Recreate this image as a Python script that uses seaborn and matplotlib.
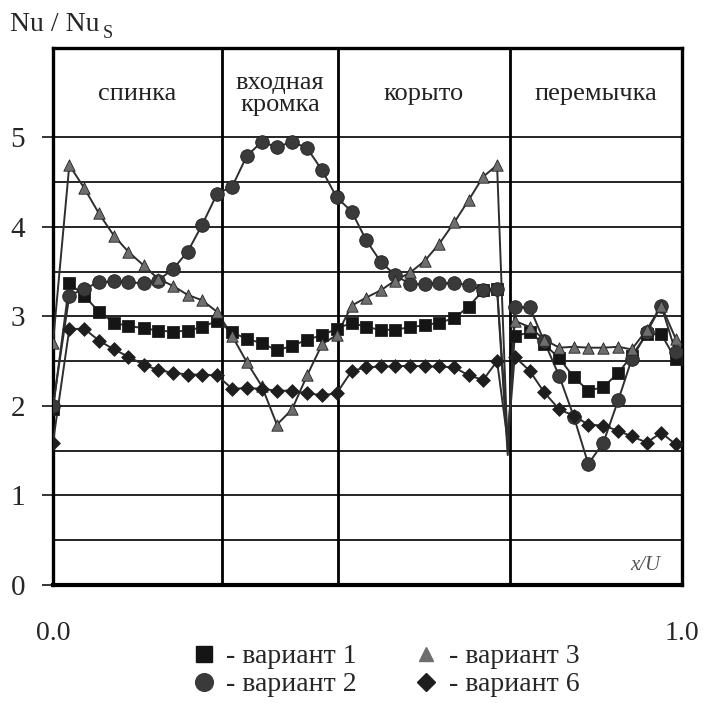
import numpy as np
import pandas as pd
import matplotlib.pyplot as plt
import seaborn as sns
from matplotlib.lines import Line2D

# x / U positions of the measurement points (index 31 is the spike at the
# trough/bridge boundary, drawn by the line only)
x = [0.000, 0.026, 0.050, 0.073, 0.097, 0.120, 0.144, 0.167, 0.191, 0.214, 0.237, 0.261,
     0.285, 0.308, 0.332, 0.356, 0.380, 0.404, 0.428, 0.451,
     0.475, 0.498, 0.521, 0.544, 0.568, 0.591, 0.614, 0.638, 0.661, 0.684, 0.706,
     0.723,
     0.734, 0.758, 0.781, 0.805, 0.828, 0.851, 0.875, 0.899, 0.920, 0.944, 0.967, 0.990]

v1 = [1.96, 3.37, 3.23, 3.05, 2.93, 2.89, 2.87, 2.84, 2.83, 2.84, 2.88, 2.95,
      2.82, 2.75, 2.70, 2.62, 2.67, 2.74, 2.79, 2.86,
      2.93, 2.88, 2.85, 2.85, 2.88, 2.90, 2.93, 2.98, 3.11, 3.29, 3.31,
      1.60,
      2.78, 2.82, 2.69, 2.53, 2.32, 2.17, 2.21, 2.37, 2.56, 2.80, 2.80, 2.52]

v2 = [2.00, 3.23, 3.31, 3.38, 3.39, 3.38, 3.37, 3.40, 3.53, 3.72, 4.02, 4.37,
      4.45, 4.79, 4.95, 4.89, 4.95, 4.88, 4.63, 4.33,
      4.17, 3.85, 3.61, 3.46, 3.36, 3.36, 3.37, 3.37, 3.35, 3.29, 3.30,
      1.45,
      3.10, 3.10, 2.72, 2.33, 1.88, 1.35, 1.59, 2.07, 2.52, 2.82, 3.12, 2.60]

v3 = [2.70, 4.69, 4.43, 4.15, 3.90, 3.72, 3.57, 3.42, 3.34, 3.24, 3.18, 3.05,
      2.78, 2.49, 2.22, 1.79, 1.96, 2.34, 2.69, 2.79,
      3.12, 3.21, 3.29, 3.40, 3.49, 3.62, 3.81, 4.05, 4.30, 4.56, 4.69,
      1.50,
      2.95, 2.88, 2.74, 2.65, 2.66, 2.65, 2.65, 2.66, 2.63, 2.85, 3.12, 2.75]

v6 = [1.59, 2.86, 2.86, 2.73, 2.63, 2.55, 2.46, 2.40, 2.37, 2.35, 2.35, 2.34,
      2.19, 2.20, 2.19, 2.17, 2.17, 2.14, 2.12, 2.14,
      2.39, 2.43, 2.44, 2.44, 2.45, 2.44, 2.44, 2.43, 2.34, 2.29, 2.50,
      1.60,
      2.55, 2.39, 2.15, 1.96, 1.89, 1.79, 1.78, 1.72, 1.66, 1.59, 1.70, 1.57]

spike_idx = 31

variants = ["- вариант 1", "- вариант 2", "- вариант 3", "- вариант 6"]
sections = ["спинка", "входная\nкромка", "корыто", "перемычка"]
bounds = [0.0, 0.269, 0.453, 0.727, 1.0]

colors = {variants[0]: "#151515", variants[1]: "#3a3a3a",
          variants[2]: "#6e6e6e", variants[3]: "#1e1e1e"}
markers = {variants[0]: "s", variants[1]: "o", variants[2]: "^", variants[3]: "D"}
sizes = {variants[0]: 8.8, variants[1]: 9.8, variants[2]: 8.2, variants[3]: 7.0}

frames = []
for name, vals in zip(variants, [v1, v2, v3, v6]):
    frames.append(pd.DataFrame({"x": x, "val": vals, "variant": name,
                                "marked": [i != spike_idx for i in range(len(x))]}))
df = pd.concat(frames, ignore_index=True)

sns.set_style("white")
plt.rcParams["font.family"] = ["Liberation Serif", "DejaVu Serif"]

fig = plt.figure(figsize=(7.06, 7.03), dpi=100)
ax = fig.add_axes([0.075, 0.168, 0.891, 0.764])

sns.lineplot(data=df, x="x", y="val", hue="variant", palette=["#2e2e2e"] * 4,
             estimator=None, sort=False, lw=1.4, legend=False, ax=ax, zorder=3)
pts = df[df["marked"]]
for name in variants:
    sub = pts[pts["variant"] == name]
    sns.scatterplot(data=sub, x="x", y="val", marker=markers[name], color=colors[name],
                    s=sizes[name] ** 2, edgecolor="#222222", linewidth=0.6,
                    legend=False, ax=ax, zorder=4)

ax.set_xlim(0, 1)
ax.set_ylim(0, 6)
ax.set_yticks([0, 1, 2, 3, 4, 5])
ax.set_yticks(np.arange(0.5, 5.0, 1.0), minor=True)
ax.set_xticks([0, 1])
ax.set_xticklabels(["0.0", "1.0"])
ax.tick_params(axis="y", which="major", direction="out", length=8, width=1.3,
               pad=12, labelsize=21, left=True)
ax.tick_params(axis="y", which="minor", length=0)
ax.tick_params(axis="x", length=0, pad=26, labelsize=20)
ax.set_xlabel("")
ax.set_ylabel("")
ax.grid(axis="y", which="both", color="black", lw=1.2, zorder=1)
ax.grid(axis="x", visible=False)
for b in bounds[1:-1]:
    ax.axvline(b, color="black", lw=2.0, zorder=2)
for s in ax.spines.values():
    s.set_color("black")
    s.set_linewidth(2.4)
ax.spines["bottom"].set_linewidth(3.0)

for i, lab in enumerate(sections):
    ax.text((bounds[i] + bounds[i + 1]) / 2, 5.48, lab, ha="center", va="center",
            fontsize=19, linespacing=1.0, color="#222222")

ax.text(0.965, 0.22, "x/U", ha="right", va="center", fontsize=15,
        style="italic", color="#555555")

fig.text(0.014, 0.965, "Nu / Nu", ha="left", va="center", fontsize=20)
fig.text(0.145, 0.953, "S", ha="left", va="center", fontsize=13)

handles = [Line2D([], [], ls="none", marker=markers[n], color=colors[n],
                  markersize=sizes[n] * 1.3) for n in variants]
fig.legend(handles, variants, loc="center", bbox_to_anchor=(0.545, 0.046), ncol=2,
           frameon=False, fontsize=20, handletextpad=0.3, columnspacing=2.0,
           labelspacing=0.1, handlelength=1.0)

fig.savefig("out.png", dpi=100)
